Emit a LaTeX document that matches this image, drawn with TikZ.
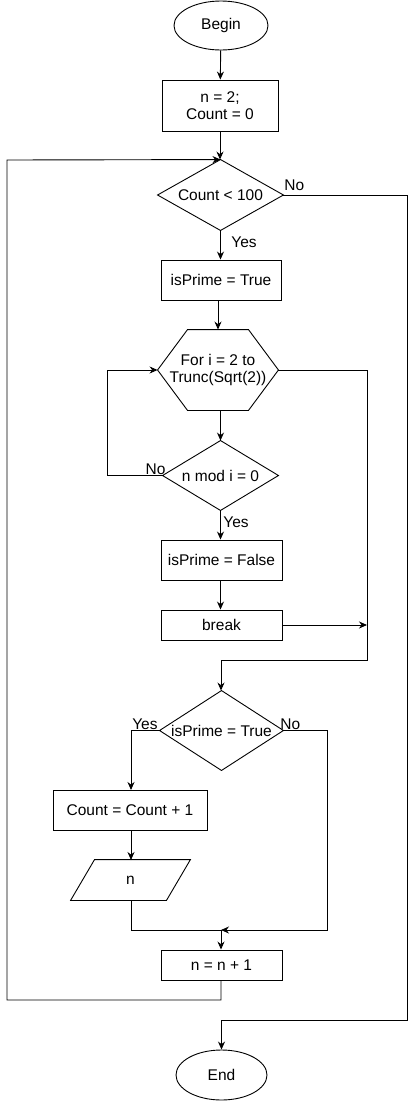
\documentclass[tikz,border=0pt]{standalone}
\usepackage{fontspec}
\setmainfont{Liberation Sans}
\usetikzlibrary{arrows.meta,shapes.geometric}
\begin{document}
\begin{tikzpicture}[x=1pt,y=-1pt,line width=0.9pt,
  every node/.style={font=\fontsize{15.5}{18}\selectfont, inner sep=0pt},
  arr/.style={-{Stealth[length=8pt,width=7pt]}},
  procbox/.style={draw, rectangle, minimum width=#1, minimum height=40pt},
  procbox/.default=121pt,
  term/.style={draw, ellipse, minimum width=94pt, minimum height=49pt},
  hidden/.style={rectangle, draw=none, minimum width=#1},
  lbl/.style={font=\fontsize{15.5}{18}\selectfont}
]
\useasboundingbox (0,0) rectangle (416,1101);
% nodes
\node[term] (begin) at (221,25.5) {Begin};
\node[draw, rectangle, minimum width=116pt, minimum height=51pt, align=center] (init) at (220,105.5) {n = 2;\\[-1pt]Count = 0};
\node[hidden=125pt, minimum height=70pt] (c1) at (220.5,195) {Count < 100};
\node[procbox=120pt] (ip1) at (221,280) {isPrime = True};
\node[hidden=120pt, minimum height=80pt, align=center] (for) at (218,370) {For i = 2 to\\[-1pt]Trunc(Sqrt(2))};
\node[hidden=115pt, minimum height=69pt] (nmod) at (220.5,475.5) {n mod i = 0};
\node[procbox=121pt] (ipf) at (221.5,560) {isPrime = False};
\node[procbox=121pt, minimum height=30pt] (brk) at (221.5,625) {break};
\node[hidden=123pt, minimum height=79pt] (c2) at (221.5,730.5) {isPrime = True};
\node[procbox=154pt] (cnt) at (130,810) {Count = Count + 1};
\node[hidden=119pt, minimum height=40pt] (out) at (130.5,880) {n};
\node[procbox=121pt, minimum height=30pt] (n1) at (221.5,965) {n = n + 1};
\node[term, minimum width=91pt, minimum height=50pt] (end) at (221.5,1075) {End};
% shape outlines
\draw (c1.west) -- (c1.north) -- (c1.east) -- (c1.south) -- cycle;
\draw (nmod.west) -- (nmod.north) -- (nmod.east) -- (nmod.south) -- cycle;
\draw (c2.west) -- (c2.north) -- (c2.east) -- (c2.south) -- cycle;
\draw (for.west) -- ([xshift=30pt]for.north west) -- ([xshift=-30pt]for.north east) -- (for.east)
      -- ([xshift=-30pt]for.south east) -- ([xshift=30pt]for.south west) -- cycle;
\draw ([xshift=24pt]out.north west) -- (out.north east) -- ([xshift=-24pt]out.south east) -- (out.south west) -- cycle;
% junction coordinates
\coordinate (jr) at (367,625);
\coordinate (jm) at (221,930);
% connectors
\draw[arr] (begin) -- (init);
\draw[arr] (init.south) -- (init.south |- c1.north);
\draw[arr] (c1.east) -- (407,195) -- (407,1020) -- (end.north |- 0,1020) -- (end.north);
\node[lbl, anchor=south west] (no1) at (284,191) {No};
\draw[arr] (c1.south) -- (c1.south |- ip1.north);
\node[lbl, anchor=west] (yes1) at (231,242) {Yes};
\draw[arr] (ip1.south -| for.north) -- (for.north);
\draw[arr] (nmod.north |- for.south) -- (nmod.north);
\draw[arr] (nmod.west) -- (107,475.5) -- (107,370) -- (for.west);
\node[lbl, anchor=south east] (no2) at (166,475) {No};
\draw[arr] (nmod.south) -- (nmod.south |- ipf.north);
\node[lbl, anchor=west] (yes2) at (223,522) {Yes};
\draw[arr] (ipf.south -| nmod.south) -- (nmod.south |- brk.north);
\draw[arr] (brk.east) -- (jr);
\draw[arr] (for.east) -- (367,370) -- (367,660) -- (221,660) -- (c2.north -| 221,0);
\draw[arr] (c2.west) -- (131,730.5) -- (131,790);
\node[lbl, anchor=south east] (yes3) at (158,730) {Yes};
\node[lbl, anchor=south west] (no3) at (280,730) {No};
\draw[arr] (cnt.south -| 131,0) -- (131,860);
\draw (131,900) -- (131,930) -- (jm);
\draw[arr] (c2.east) -- (327,730.5) -- (327,930) -- (jm);
\draw[arr] (jm) -- (n1.north -| jm);
\draw[arr] (n1.south -| jm) -- (221,1000) -- (7,1000) -- (7,160) -- (c1.north);
\end{tikzpicture}
\end{document}
